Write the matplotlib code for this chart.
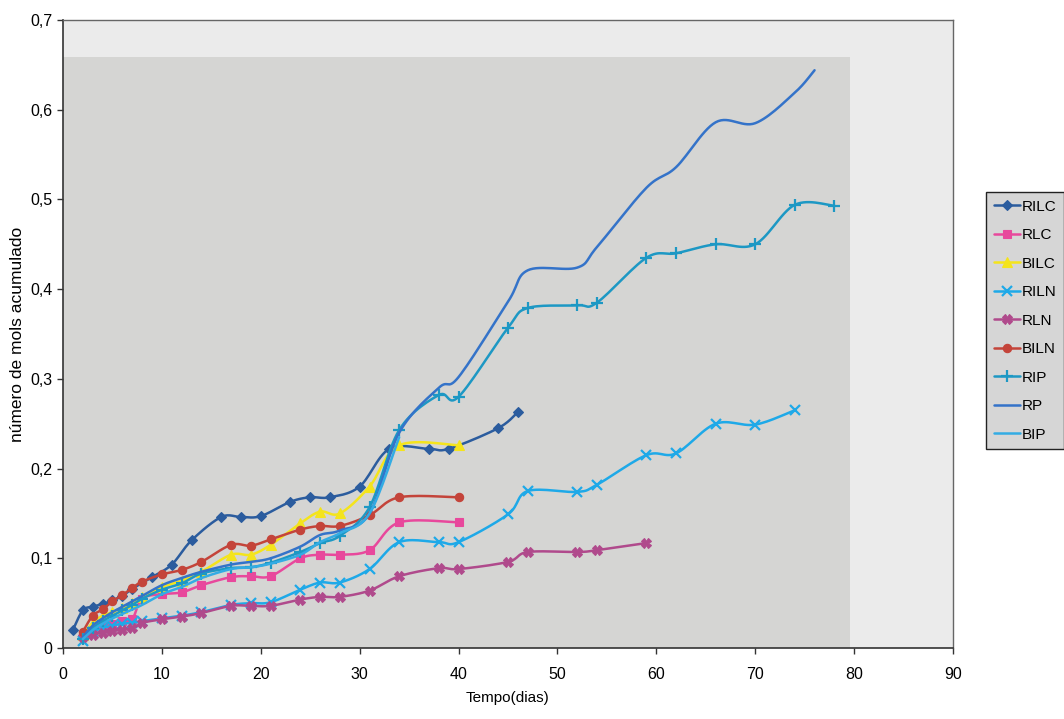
import numpy as np
import matplotlib
matplotlib.use("Agg")
import matplotlib.pyplot as plt
from matplotlib.patches import Rectangle
from matplotlib.ticker import FuncFormatter, MultipleLocator

plt.rcParams['font.family'] = ['Liberation Sans', 'DejaVu Sans']

# --- data: cumulative moles versus time (days) ---
rilc_x = [1, 2, 3, 4, 5, 6, 7, 9, 11, 13, 16, 18, 20, 23, 25, 27, 30, 33, 37, 39, 44, 46]
rilc_y = [0.020, 0.042, 0.046, 0.049, 0.053, 0.058, 0.066, 0.079, 0.093, 0.120, 0.146, 0.146,
          0.147, 0.163, 0.168, 0.168, 0.180, 0.222, 0.222, 0.222, 0.245, 0.263]

rlc_x = [2, 3, 4, 5, 6, 7, 8, 10, 12, 14, 17, 19, 21, 24, 26, 28, 31, 34, 40]
rlc_y = [0.015, 0.020, 0.024, 0.027, 0.030, 0.032, 0.055, 0.060, 0.062, 0.070, 0.079, 0.080,
         0.080, 0.100, 0.104, 0.104, 0.109, 0.140, 0.140]

bilc_x = [2, 3, 4, 5, 6, 7, 8, 10, 12, 14, 17, 19, 21, 24, 26, 28, 31, 34, 40]
bilc_y = [0.015, 0.028, 0.036, 0.040, 0.045, 0.050, 0.057, 0.068, 0.075, 0.085, 0.104, 0.104,
          0.115, 0.139, 0.152, 0.150, 0.180, 0.226, 0.226]

riln_x = [2, 3, 4, 5, 6, 7, 8, 10, 12, 14, 17, 19, 21, 24, 26, 28, 31, 34, 38, 40, 45, 47,
          52, 54, 59, 62, 66, 70, 74]
riln_y = [0.008, 0.018, 0.022, 0.025, 0.027, 0.028, 0.030, 0.033, 0.036, 0.040, 0.048, 0.050,
          0.051, 0.065, 0.073, 0.073, 0.088, 0.118, 0.118, 0.118, 0.149, 0.175, 0.174, 0.182,
          0.215, 0.217, 0.250, 0.249, 0.265]

rln_x = [2, 3, 4, 5, 6, 7, 8, 10, 12, 14, 17, 19, 21, 24, 26, 28, 31, 34, 38, 40, 45, 47,
         52, 54, 59]
rln_y = [0.012, 0.015, 0.017, 0.019, 0.020, 0.022, 0.028, 0.032, 0.035, 0.039, 0.047, 0.047,
         0.047, 0.054, 0.057, 0.057, 0.064, 0.080, 0.089, 0.088, 0.096, 0.107, 0.107, 0.109,
         0.117]

biln_x = [2, 3, 4, 5, 6, 7, 8, 10, 12, 14, 17, 19, 21, 24, 26, 28, 31, 34, 40]
biln_y = [0.018, 0.036, 0.043, 0.052, 0.059, 0.067, 0.074, 0.082, 0.087, 0.096, 0.115, 0.114,
          0.121, 0.132, 0.136, 0.136, 0.148, 0.168, 0.168]

rip_x = [2, 3, 4, 5, 6, 7, 8, 10, 12, 14, 17, 19, 21, 24, 26, 28, 31, 34, 38, 40, 45, 47,
         52, 54, 59, 62, 66, 70, 74, 78]
rip_y = [0.010, 0.022, 0.030, 0.036, 0.042, 0.048, 0.055, 0.065, 0.072, 0.083, 0.089, 0.090,
         0.095, 0.107, 0.117, 0.125, 0.157, 0.243, 0.282, 0.280, 0.357, 0.379, 0.382, 0.385,
         0.435, 0.440, 0.450, 0.450, 0.494, 0.493]

rp_x = [2, 3, 4, 5, 6, 7, 8, 10, 12, 14, 17, 19, 21, 24, 26, 28, 31, 34, 38, 40, 45, 47,
        52, 54, 59, 62, 66, 70, 74, 76]
rp_y = [0.012, 0.025, 0.033, 0.040, 0.046, 0.052, 0.058, 0.070, 0.078, 0.085, 0.093, 0.096,
        0.100, 0.113, 0.126, 0.131, 0.150, 0.240, 0.290, 0.302, 0.386, 0.421, 0.424, 0.447,
        0.513, 0.536, 0.586, 0.585, 0.619, 0.644]

bip_x = [2, 3, 4, 5, 6, 7, 8, 10, 12, 14, 17, 19, 21, 24, 26, 28, 31, 34]
bip_y = [0.010, 0.020, 0.027, 0.033, 0.038, 0.043, 0.048, 0.060, 0.068, 0.078, 0.088, 0.090,
         0.094, 0.104, 0.118, 0.128, 0.150, 0.235]

series = [
    ("RILC", rilc_x, rilc_y, "#2b5c9e", "D", 5),
    ("RLC", rlc_x, rlc_y, "#e8489c", "s", 6),
    ("BILC", bilc_x, bilc_y, "#f4e41c", "^", 7),
    ("RILN", riln_x, riln_y, "#1ea9e8", "x", 7),
    ("RLN", rln_x, rln_y, "#b04a8c", "X", 7),
    ("BILN", biln_x, biln_y, "#c4443a", "o", 6),
    ("RIP", rip_x, rip_y, "#1d98c4", "+", 8),
    ("RP", rp_x, rp_y, "#3473c9", None, 0),
    ("BIP", bip_x, bip_y, "#33ace4", None, 0),
]

XMAX, YMAX = 90, 0.7
SX, SY = 890 / XMAX, 628 / YMAX  # pixel scale used for smoothing


def smooth(xs, ys, n=16):
    """Bezier smoothing through every point (Catmull-Rom style tangents)."""
    P = np.column_stack([np.asarray(xs, float) * SX, np.asarray(ys, float) * SY])
    E = np.vstack([P[0], P, P[-1]])
    t = np.linspace(0, 1, n)[:, None]
    parts = []
    for i in range(len(P) - 1):
        p0, p1, p2, p3 = E[i], E[i + 1], E[i + 2], E[i + 3]
        c1 = p1 + (p2 - p0) / 6
        c2 = p2 - (p3 - p1) / 6
        seg = (1 - t) ** 3 * p1 + 3 * (1 - t) ** 2 * t * c1 + 3 * (1 - t) * t ** 2 * c2 + t ** 3 * p2
        parts.append(seg if i == 0 else seg[1:])
    A = np.vstack(parts)
    return A[:, 0] / SX, A[:, 1] / SY, [i * (n - 1) for i in range(len(P))]


fig = plt.figure(figsize=(10.64, 7.19), dpi=100)
ax = fig.add_axes([63 / 1064, 1 - 648 / 719, 890 / 1064, 628 / 719])
ax.set_facecolor("#ebebeb")
ax.add_patch(Rectangle((0, 0), 79.6, 0.659, facecolor="#d5d5d3", edgecolor="none", zorder=0))

for name, xs, ys, col, mk, ms in series:
    sx_, sy_, idx = smooth(xs, ys)
    kw = dict(color=col, lw=1.8, label=name, zorder=3, solid_capstyle="round")
    if mk:
        kw.update(marker=mk, markersize=ms, markevery=idx, markeredgecolor=col,
                  markerfacecolor=col, markeredgewidth=1.6 if mk in ("x", "+") else 0.8)
    ax.plot(sx_, sy_, **kw)

ax.set_xlim(0, XMAX)
ax.set_ylim(0, YMAX)
ax.xaxis.set_major_locator(MultipleLocator(10))
ax.yaxis.set_major_locator(MultipleLocator(0.1))
ax.yaxis.set_major_formatter(FuncFormatter(lambda v, p: "0" if abs(v) < 1e-9 else f"{v:.1f}".replace(".", ",")))
ax.tick_params(axis="both", direction="out", length=4, width=1, color="#333333", labelsize=11.5)
ax.tick_params(axis="x", pad=10)
for s in ("left", "bottom"):
    ax.spines[s].set_color("#333333")
    ax.spines[s].set_linewidth(1.2)
for s in ("top", "right"):
    ax.spines[s].set_color("#666666")
    ax.spines[s].set_linewidth(1.0)

ax.set_xlabel("Tempo(dias)", fontsize=11, labelpad=6)
ax.set_ylabel("número de mols acumulado", fontsize=12.5, labelpad=4)

leg = fig.legend(loc="upper left", bbox_to_anchor=(986 / 1064, 1 - 192 / 719),
                 frameon=True, fancybox=False, fontsize=11, labelspacing=0.95,
                 handlelength=1.7, handletextpad=0.15, borderpad=0.5, borderaxespad=0)
leg.get_frame().set_facecolor("#d6d6d6")
leg.get_frame().set_edgecolor("#222222")
leg.get_frame().set_alpha(1)

fig.savefig("out.png", dpi=100)
